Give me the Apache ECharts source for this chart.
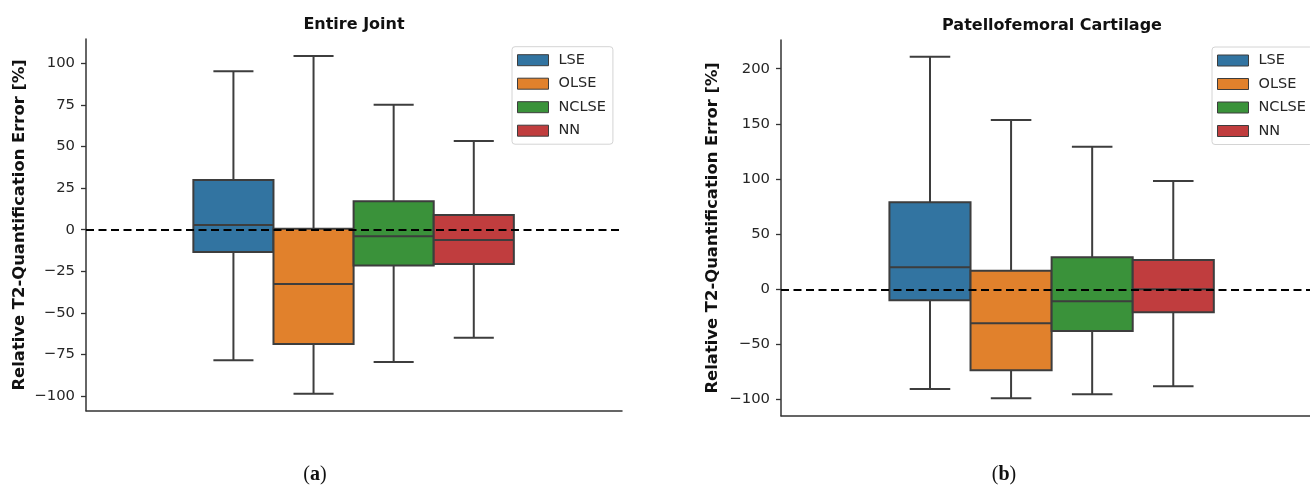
<!DOCTYPE html>
<html>
<head>
<meta charset="utf-8">
<script src="https://cdn.jsdelivr.net/npm/echarts@6/dist/echarts.min.js"></script>
<style>
html,body{margin:0;padding:0;background:#ffffff;}
#chart{width:1310px;height:485px;}
</style>
</head>
<body>
<div id="chart"></div>
<script>
// ---------- data ----------
const categories = ['LSE', 'OLSE', 'NCLSE', 'NN'];

// Panel (a): Entire Joint
const jointLow    = [-78.5, -98.6, -79.5, -64.9];
const jointQ1     = [-13.4, -68.7, -21.6, -20.6];
const jointMedian = [2.8, -32.6, -4.0, -6.2];
const jointQ3     = [29.9, 0.6, 17.1, 8.8];
const jointHigh   = [95.2, 104.4, 75.1, 53.3];

// Panel (b): Patellofemoral Cartilage
const pfLow    = [-90.4, -98.8, -95.2, -87.9];
const pfQ1     = [-10.0, -73.4, -37.8, -20.9];
const pfMedian = [19.9, -30.8, -10.9, 0.0];
const pfQ3     = [78.9, 16.9, 29.0, 26.6];
const pfHigh   = [210.9, 153.5, 129.3, 98.2];

const jointTicks = [-100, -75, -50, -25, 0, 25, 50, 75, 100];
const pfTicks = [-100, -50, 0, 50, 100, 150, 200];

const panelTitles = ['Entire Joint', 'Patellofemoral Cartilage'];
const yAxisTitle = 'Relative T2-Quantification Error [%]';

// ---------- styles ----------
const boxColors = ['#3274a1', '#e1812c', '#3a923a', '#c03d3e'];
const EDGE = '#3d3d3d';
const AXIS = '#333333';
const TEXT = '#262626';

function renderBox(params, api) {
  const x = api.value(0);
  const lo = api.value(1), q1 = api.value(2), med = api.value(3), q3 = api.value(4), hi = api.value(5);
  const half = 0.5, cap = 0.25;
  const tl = api.coord([x - half, q3]);
  const br = api.coord([x + half, q1]);
  const mL = api.coord([x - half, med]);
  const mR = api.coord([x + half, med]);
  const top = api.coord([x, hi]);
  const bot = api.coord([x, lo]);
  const capTL = api.coord([x - cap, hi]), capTR = api.coord([x + cap, hi]);
  const capBL = api.coord([x - cap, lo]), capBR = api.coord([x + cap, lo]);
  const ls = { stroke: EDGE, lineWidth: 2 };
  return {
    type: 'group',
    children: [
      { type: 'line', shape: { x1: top[0], y1: top[1], x2: top[0], y2: tl[1] }, style: ls },
      { type: 'line', shape: { x1: bot[0], y1: br[1], x2: bot[0], y2: bot[1] }, style: ls },
      { type: 'line', shape: { x1: capTL[0], y1: capTL[1], x2: capTR[0], y2: capTR[1] }, style: ls },
      { type: 'line', shape: { x1: capBL[0], y1: capBL[1], x2: capBR[0], y2: capBR[1] }, style: ls },
      { type: 'rect', shape: { x: tl[0], y: tl[1], width: br[0] - tl[0], height: br[1] - tl[1] },
        style: { fill: api.visual('color'), stroke: EDGE, lineWidth: 2 } },
      { type: 'line', shape: { x1: mL[0], y1: mL[1], x2: mR[0], y2: mR[1] }, style: ls }
    ]
  };
}

function boxSeries(panel, low, q1, med, q3, high) {
  return categories.map((name, i) => ({
    type: 'custom',
    name: name,
    xAxisIndex: panel,
    yAxisIndex: panel,
    itemStyle: { color: boxColors[i] },
    renderItem: renderBox,
    clip: false,
    encode: { x: 0, y: [1, 2, 3, 4, 5] },
    data: [[i, low[i], q1[i], med[i], q3[i], high[i]]],
    z: 2
  }));
}

function zeroLine(panel) {
  return {
    type: 'line',
    xAxisIndex: panel,
    yAxisIndex: panel,
    data: [],
    z: 10,
    silent: true,
    markLine: {
      silent: true,
      symbol: ['none', 'none'],
      label: { show: false },
      lineStyle: { color: '#000000', width: 2, type: [8, 4.5] },
      emphasis: { disabled: true },
      data: [{ yAxis: 0 }],
      z: 10
    }
  };
}

const minusFmt = v => (v < 0 ? '\u2212' + Math.abs(v) : String(v));

function xAxisDef(gridIndex, min, max) {
  return {
    type: 'value', gridIndex: gridIndex, min: min, max: max,
    axisLine: { show: true, onZero: false, lineStyle: { color: AXIS, width: 1.5 } },
    axisTick: { show: false }, axisLabel: { show: false }, splitLine: { show: false }
  };
}

function yAxisDef(gridIndex, min, max, ticks, gap) {
  return {
    type: 'value', gridIndex: gridIndex, min: min, max: max,
    name: yAxisTitle, nameLocation: 'middle', nameGap: gap, nameRotate: 90,
    nameTextStyle: { fontFamily: 'DejaVu Sans', fontWeight: 'bold', fontSize: 16.4, color: '#111111' },
    axisLine: { show: true, onZero: false, lineStyle: { color: AXIS, width: 1.5 } },
    axisTick: { show: true, length: 5, customValues: ticks, lineStyle: { color: AXIS, width: 1.3 } },
    axisLabel: { customValues: ticks, formatter: minusFmt, margin: 11,
      fontFamily: 'DejaVu Sans', fontSize: 14.8, color: TEXT },
    splitLine: { show: false }
  };
}

function legendDef(left, top) {
  return {
    data: categories,
    orient: 'vertical',
    left: left, top: top,
    icon: 'rect',
    itemWidth: 31, itemHeight: 11, itemGap: 8.5,
    padding: [6, 7, 6, 5],
    backgroundColor: '#ffffff',
    borderColor: '#d4d4d4', borderWidth: 1, borderRadius: 3,
    itemStyle: { borderColor: EDGE, borderWidth: 1 },
    textStyle: { fontFamily: 'DejaVu Sans', fontSize: 14.5, color: TEXT, lineHeight: 14, padding: [0, 0, 0, 5] },
    selectedMode: false
  };
}

const option = {
  animation: false,
  backgroundColor: '#ffffff',
  grid: [
    { left: 86, right: 688, top: 39, bottom: 74.3, containLabel: false },
    { left: 781, right: 0, top: 40, bottom: 69.3, containLabel: false }
  ],
  xAxis: [xAxisDef(0, -1.84, 4.85), xAxisDef(1, -1.837, 4.686)],
  yAxis: [
    yAxisDef(0, -108.8, 114.6, jointTicks, 58),
    yAxisDef(1, -114.6, 226, pfTicks, 60)
  ],
  legend: [legendDef(512, 46.7), legendDef(1212, 47)],
  graphic: [
    { type: 'text', x: 354, y: 25, style: { text: panelTitles[0], textAlign: 'center', textVerticalAlign: 'middle',
      font: 'bold 16px "DejaVu Sans"', fill: '#111111' } },
    { type: 'text', x: 1052, y: 25.5, style: { text: panelTitles[1], textAlign: 'center', textVerticalAlign: 'middle',
      font: 'bold 16px "DejaVu Sans"', fill: '#111111' } },
    { type: 'text', x: 315, y: 475, style: { text: '{n|(}{b|a}{n|)}', textAlign: 'center', textVerticalAlign: 'middle',
      rich: { n: { fontFamily: 'Liberation Serif', fontSize: 20, fill: '#111' }, b: { fontFamily: 'Liberation Serif', fontSize: 20, fontWeight: 'bold', fill: '#111' } } } },
    { type: 'text', x: 1004, y: 475, style: { text: '{n|(}{b|b}{n|)}', textAlign: 'center', textVerticalAlign: 'middle',
      rich: { n: { fontFamily: 'Liberation Serif', fontSize: 20, fill: '#111' }, b: { fontFamily: 'Liberation Serif', fontSize: 20, fontWeight: 'bold', fill: '#111' } } } }
  ],
  series: [].concat(
    boxSeries(0, jointLow, jointQ1, jointMedian, jointQ3, jointHigh),
    boxSeries(1, pfLow, pfQ1, pfMedian, pfQ3, pfHigh),
    [zeroLine(0), zeroLine(1)]
  )
};

const chart = echarts.init(document.getElementById('chart'), null, { renderer: 'canvas' });
chart.setOption(option);
</script>
</body>
</html>
